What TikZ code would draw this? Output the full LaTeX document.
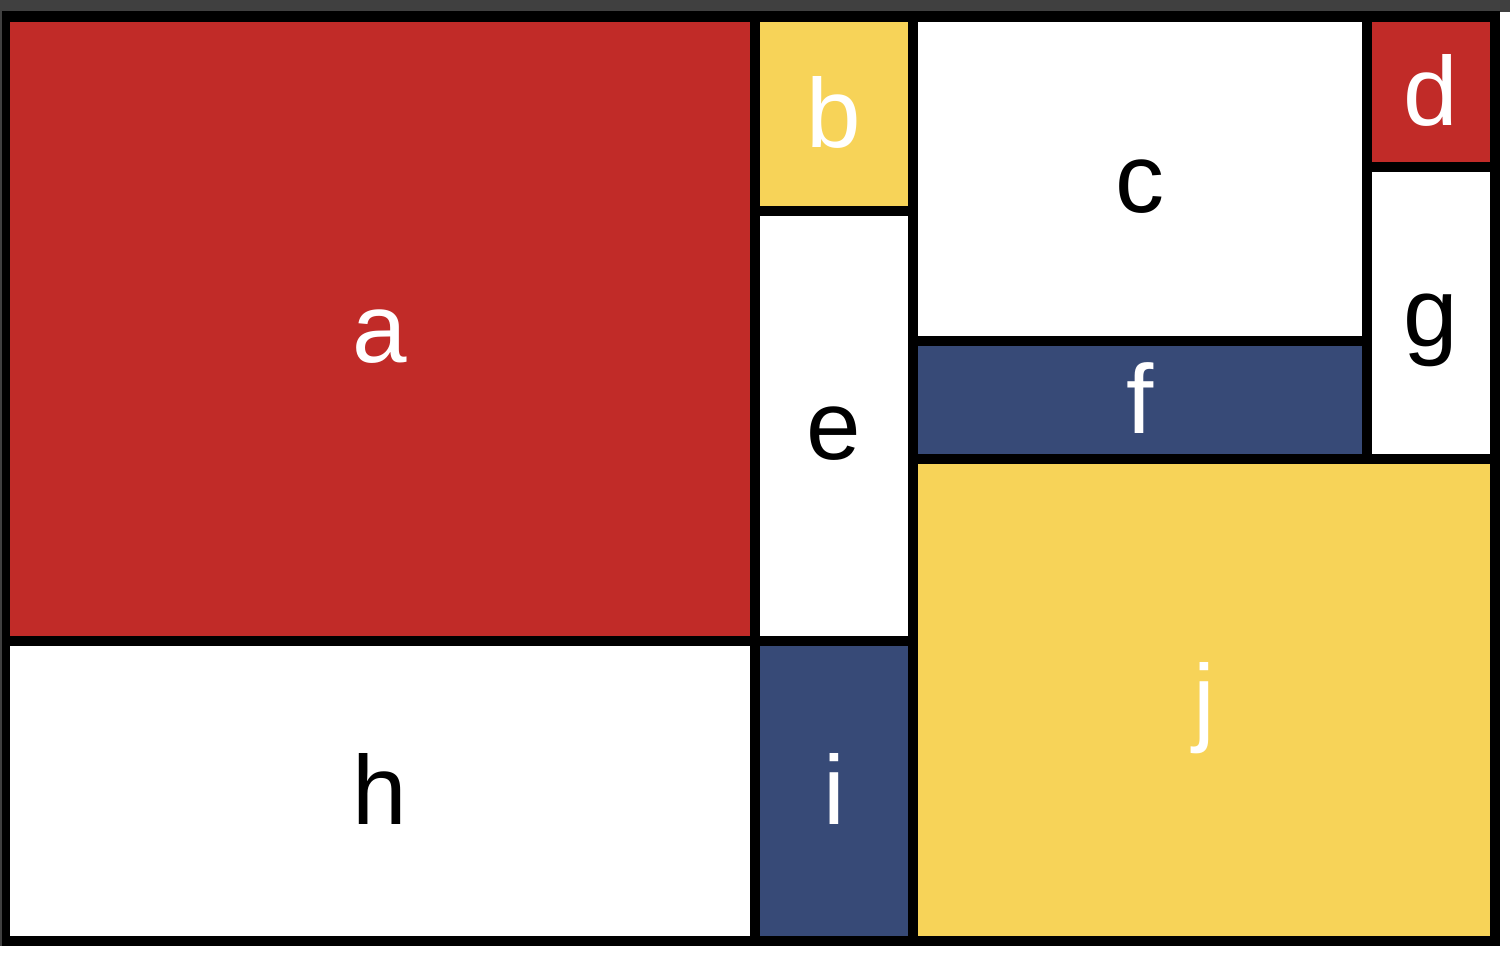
\documentclass[tikz,border=0pt]{standalone}
\usepackage{fontspec}
\setmainfont{Liberation Sans}
\definecolor{mred}{HTML}{C12B28}
\definecolor{myellow}{HTML}{F7D358}
\definecolor{mblue}{HTML}{374A77}
\definecolor{chrome}{HTML}{404040}
\tikzset{
  lbl/.style={anchor=base, inner sep=0pt, font=\fontsize{98bp}{100bp}\selectfont},
  lw/.style={lbl, text=white},
  lk/.style={lbl, text=black}
}
\begin{document}
\begin{tikzpicture}[x=1bp, y=-1bp]
\useasboundingbox (0,0) rectangle (1510,956);
\fill[white] (0,0) rectangle (1510,956);
% window chrome
\fill[chrome] (0,0) rectangle (1510,12);
\fill[chrome] (0,0) rectangle (2,946);
% black frame
\fill[black] (2,11) rectangle (1500,946);
% cells
\fill[mred]    (10,22)   rectangle (750,636);   % a
\fill[white]   (10,646)  rectangle (750,936);   % h
\fill[myellow] (760,22)  rectangle (908,206);   % b
\fill[white]   (760,216) rectangle (908,636);   % e
\fill[mblue]   (760,646) rectangle (908,936);   % i
\fill[white]   (918,22)  rectangle (1362,336);  % c
\fill[mblue]   (918,346) rectangle (1362,454);  % f
\fill[mred]    (1372,22) rectangle (1490,162);  % d
\fill[white]   (1372,172) rectangle (1490,454); % g
\fill[myellow] (918,464) rectangle (1490,936);  % j
% labels
\node[lw] (la) at (380,362) {a};
\node[lk] (lh) at (380,824) {h};
\node[lw] (lb) at (834,147) {b};
\node[lk] (le) at (834,459) {e};
\node[lw] (li) at (834,824) {i};
\node[lk] (lc) at (1140,212) {c};
\node[lw] (lf) at (1140,433) {f};
\node[lw] (ld) at (1431,125) {d};
\node[lk] (lg) at (1431,346) {g};
\node[lw] (lj) at (1204,733) {j};
\end{tikzpicture}
\end{document}
